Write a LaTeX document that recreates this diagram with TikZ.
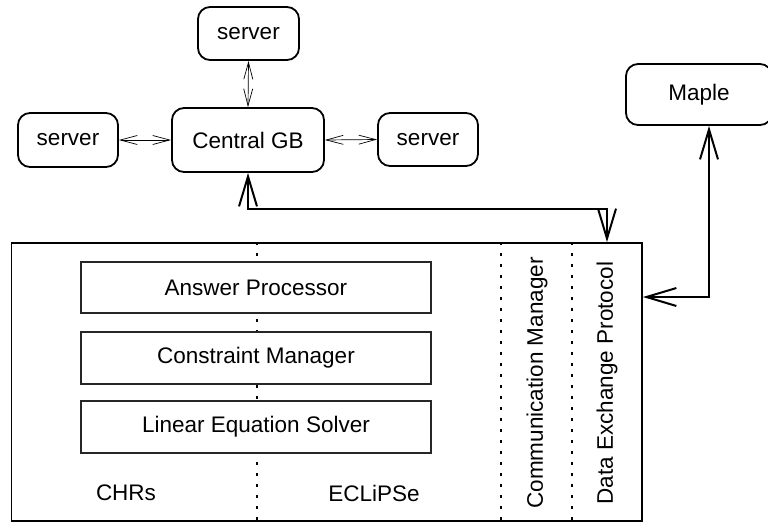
\documentclass[tikz,border=0pt]{standalone}
\usepackage{fontspec}
\setmainfont{Liberation Sans}
\usetikzlibrary{arrows.meta}
\begin{document}
\begin{tikzpicture}[x=1pt,y=-1pt,
  every node/.style={font=\fontsize{22.5}{26}\selectfont},
  rbox/.style={draw, line width=1.8pt, rounded corners=12pt, inner sep=0pt, align=center},
  ibox/.style={draw=black!85, line width=1.2pt, fill=white, minimum width=350pt, minimum height=51pt, inner sep=0pt},
  thinarrow/.style={line width=0.7pt, {Straight Barb[length=17pt,width=9pt]}-{Straight Barb[length=17pt,width=9pt]}},
  bigarrow/.style={line width=2pt, {Straight Barb[length=30pt,width=18pt]}-{Straight Barb[length=30pt,width=18pt]}},
  sep/.style={line width=1.8pt, dash pattern=on 3pt off 8pt},
  lbl/.style={inner sep=0pt}
]
\useasboundingbox (0,0) rectangle (768,523);
% top network
\node[rbox, minimum width=101pt, minimum height=53pt] (stop) at (248.5,33.5) {server};
\node[rbox, minimum width=152pt, minimum height=64pt] (gb) at (248,140) {Central GB};
\node[rbox, minimum width=100pt, minimum height=54pt] (sleft) at (68,140) {server};
\node[rbox, minimum width=100pt, minimum height=53pt] (sright) at (428,139.5) {server};
\node[rbox, minimum width=146pt, minimum height=61pt] (maple) at (699,94.5) {Maple};
\draw[thinarrow] (stop.south) -- (gb.north);
\draw[thinarrow] (sleft.east) -- (gb.west);
\draw[thinarrow] (gb.east) -- (sright.west);
% main box
\node[draw, line width=1.8pt, minimum width=630.5pt, minimum height=278pt, inner sep=0pt] (main) at (326.75,382) {};
\coordinate (d1) at (257,382);
\coordinate (d2) at (501,382);
\coordinate (d3) at (572,382);
\draw[sep] (main.north -| d1) -- (main.south -| d1);
\draw[sep] (main.north -| d2) -- (main.south -| d2);
\draw[sep] (main.north -| d3) -- (main.south -| d3);
\node[ibox] (ap) at (256,287.5) {Answer Processor};
\node[ibox, minimum height=52pt] (cm) at (256,358) {Constraint Manager};
\node[ibox, minimum height=52pt] (les) at (256,427) {Linear Equation Solver};
\node[lbl] (chr) at (126,493) {CHRs};
\node[lbl] (ecl) at (374,493) {ECLiPSe};
\node[lbl, rotate=90] (comm) at (537,383) {Communication Manager};
\node[lbl, rotate=90] (dep) at (607,383) {Data Exchange Protocol};
% connectors
\coordinate (bend) at (607,209);
\draw[bigarrow] (gb.south) |- (bend) -- (main.north -| bend);
\coordinate (mbend) at (709,297);
\draw[bigarrow] (maple.south -| mbend) |- (main.east |- mbend);
\end{tikzpicture}
\end{document}
